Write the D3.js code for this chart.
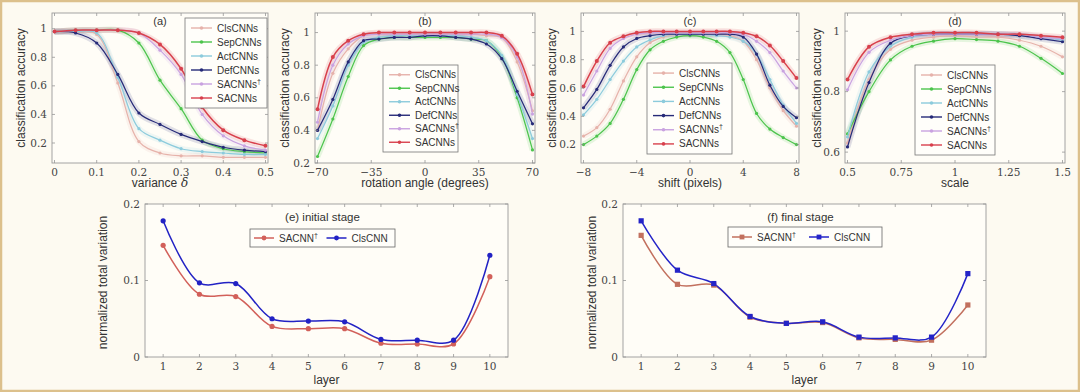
<!DOCTYPE html>
<html>
<head>
<meta charset="utf-8">
<script src="https://cdn.jsdelivr.net/npm/d3@7"></script>
<style>
  html, body { margin: 0; padding: 0; background: #fdfaf1; }
  svg { display: block; }
</style>
</head>
<body>
<script>
// method names and colours (top row)
const methods = ["ClsCNNs", "SepCNNs", "ActCNNs", "DefCNNs", "SACNNs†", "SACNNs"];
const methodColors = ["#e6b2aa", "#4cc44c", "#8ccbdc", "#262a78", "#c9a2e0", "#d8404c"];

// (a) noise variance
const varianceX = [0, 0.05, 0.1, 0.15, 0.2, 0.25, 0.3, 0.35, 0.4, 0.45, 0.5];
const noiseAcc = [
  [0.98, 0.98, 0.96, 0.62, 0.21, 0.13, 0.11, 0.11, 0.10, 0.10, 0.10],
  [0.98, 0.99, 0.99, 0.99, 0.90, 0.64, 0.44, 0.22, 0.16, 0.14, 0.13],
  [0.98, 0.98, 0.97, 0.66, 0.30, 0.22, 0.16, 0.14, 0.13, 0.12, 0.12],
  [0.98, 0.97, 0.90, 0.68, 0.41, 0.33, 0.26, 0.21, 0.17, 0.15, 0.14],
  [0.98, 0.99, 0.99, 0.99, 0.97, 0.85, 0.68, 0.40, 0.25, 0.18, 0.15],
  [0.98, 0.99, 0.99, 0.99, 0.97, 0.89, 0.72, 0.45, 0.29, 0.22, 0.18]
];

// (b) rotation angle
const angleX = [-70, -60, -50, -40, -30, -20, -10, 0, 10, 20, 30, 40, 50, 60, 70];
const rotationAcc = [
  [0.40, 0.75, 0.90, 0.98, 0.99, 0.99, 0.99, 0.99, 0.99, 0.99, 0.99, 0.98, 0.97, 0.82, 0.52],
  [0.24, 0.47, 0.73, 0.92, 0.96, 0.97, 0.97, 0.97, 0.97, 0.97, 0.96, 0.95, 0.85, 0.60, 0.28],
  [0.35, 0.55, 0.80, 0.94, 0.97, 0.98, 0.98, 0.98, 0.98, 0.98, 0.97, 0.95, 0.86, 0.62, 0.35],
  [0.40, 0.59, 0.82, 0.95, 0.96, 0.97, 0.97, 0.98, 0.98, 0.97, 0.96, 0.93, 0.84, 0.64, 0.44],
  [0.45, 0.80, 0.93, 0.98, 0.99, 0.99, 0.99, 0.99, 0.99, 0.99, 0.99, 0.99, 0.97, 0.85, 0.50],
  [0.53, 0.85, 0.95, 0.99, 1.00, 1.00, 1.00, 1.00, 1.00, 1.00, 1.00, 1.00, 0.98, 0.87, 0.62]
];

// (c) shift
const shiftX = [-8, -7, -6, -5, -4, -3, -2, -1, 0, 1, 2, 3, 4, 5, 6, 7, 8];
const shiftAcc = [
  [0.26, 0.32, 0.45, 0.65, 0.82, 0.92, 0.96, 0.98, 0.98, 0.98, 0.98, 0.97, 0.93, 0.80, 0.60, 0.44, 0.33],
  [0.20, 0.26, 0.35, 0.52, 0.73, 0.87, 0.93, 0.96, 0.97, 0.96, 0.93, 0.85, 0.66, 0.42, 0.31, 0.25, 0.20],
  [0.41, 0.52, 0.66, 0.79, 0.89, 0.94, 0.97, 0.98, 0.98, 0.98, 0.97, 0.96, 0.93, 0.84, 0.66, 0.48, 0.35],
  [0.46, 0.59, 0.76, 0.89, 0.95, 0.97, 0.98, 0.98, 0.98, 0.98, 0.98, 0.98, 0.96, 0.84, 0.62, 0.47, 0.39],
  [0.55, 0.72, 0.88, 0.95, 0.98, 0.99, 0.99, 0.99, 0.99, 0.99, 0.99, 0.99, 0.98, 0.93, 0.85, 0.72, 0.60],
  [0.61, 0.79, 0.92, 0.965, 0.99, 1.00, 1.00, 1.00, 1.00, 1.00, 1.00, 1.00, 0.99, 0.965, 0.90, 0.79, 0.67]
];

// (d) scale
const scaleX = [0.5, 0.6, 0.7, 0.8, 0.9, 1.0, 1.1, 1.2, 1.3, 1.4, 1.5];
const scaleAcc = [
  [0.63, 0.84, 0.94, 0.97, 0.98, 0.985, 0.98, 0.98, 0.97, 0.95, 0.915],
  [0.66, 0.80, 0.905, 0.95, 0.967, 0.975, 0.972, 0.967, 0.95, 0.91, 0.86],
  [0.65, 0.865, 0.95, 0.98, 0.99, 0.99, 0.99, 0.99, 0.985, 0.98, 0.97],
  [0.617, 0.83, 0.96, 0.985, 0.99, 0.99, 0.99, 0.99, 0.985, 0.975, 0.965],
  [0.806, 0.93, 0.97, 0.985, 0.99, 0.99, 0.99, 0.99, 0.99, 0.98, 0.975],
  [0.84, 0.948, 0.98, 0.99, 0.995, 0.995, 0.995, 0.99, 0.99, 0.985, 0.98]
];

// (e), (f) normalized total variation per layer
const layers = [1, 2, 3, 4, 5, 6, 7, 8, 9, 10];
const tvNames = ["SACNN", "ClsCNN"];
const tvColors = [["#d2605a", "#2222c4"], ["#c2705e", "#2424c8"]];
const tvInitial = [
  [0.146, 0.082, 0.079, 0.040, 0.037, 0.037, 0.018, 0.017, 0.017, 0.105],
  [0.178, 0.097, 0.096, 0.050, 0.047, 0.046, 0.023, 0.022, 0.022, 0.133]
];
const tvFinal = [
  [0.159, 0.095, 0.094, 0.052, 0.044, 0.045, 0.025, 0.023, 0.022, 0.068],
  [0.178, 0.1135, 0.096, 0.053, 0.044, 0.046, 0.026, 0.025, 0.026, 0.109]
];

const W = 1080, H = 392;
const serif = "'DejaVu Serif', 'Liberation Serif', serif";
const sans = "'Liberation Sans', Arial, sans-serif";

const svg = d3.select("body").append("svg")
  .attr("width", W).attr("height", H);

svg.append("rect").attr("x", 1).attr("y", 1).attr("width", W - 2).attr("height", H - 2)
  .attr("fill", "#fdfaf1").attr("stroke", "#dcc08c").attr("stroke-width", 2.5);

function drawFrame(g, box, x, y, xticks, yticks, xlabels, ylabels) {
  const [l, t, r, b] = box;
  g.append("rect").attr("x", l).attr("y", t).attr("width", r - l).attr("height", b - t)
    .attr("fill", "#fffdf7").attr("stroke", "none");
  return function finish() {
    const tk = g.append("g").attr("stroke", "#888").attr("stroke-width", 0.7);
    xticks.forEach(v => {
      tk.append("line").attr("x1", x(v)).attr("x2", x(v)).attr("y1", b).attr("y2", b - 3);
      tk.append("line").attr("x1", x(v)).attr("x2", x(v)).attr("y1", t).attr("y2", t + 3);
    });
    yticks.forEach(v => {
      tk.append("line").attr("x1", l).attr("x2", l + 3).attr("y1", y(v)).attr("y2", y(v));
      tk.append("line").attr("x1", r).attr("x2", r - 3).attr("y1", y(v)).attr("y2", y(v));
    });
    g.append("rect").attr("x", l).attr("y", t).attr("width", r - l).attr("height", b - t)
      .attr("fill", "none").attr("stroke", "#9a9a9a").attr("stroke-width", 0.9);
    g.append("g").selectAll("text").data(xticks).join("text")
      .attr("x", d => x(d)).attr("y", b + 13)
      .attr("text-anchor", "middle").attr("font-family", serif).attr("font-size", 10.5)
      .attr("fill", "#444").text((d, i) => xlabels[i]);
    g.append("g").selectAll("text").data(yticks).join("text")
      .attr("x", l - 5).attr("y", d => y(d) + 3.5)
      .attr("text-anchor", "end").attr("font-family", serif).attr("font-size", 10.5)
      .attr("fill", "#444").text((d, i) => ylabels[i]);
  };
}

// ---------- top row ----------
const topPanels = [
  { title: "(a)", xs: varianceX, ys: noiseAcc, box: [52, 13, 268, 163], xdom: [0, 0.5], ydom: [0.06, 1.11],
    xticks: [0, 0.1, 0.2, 0.3, 0.4, 0.5], xlabels: ["0", "0.1", "0.2", "0.3", "0.4", "0.5"],
    yticks: [0.2, 0.4, 0.6, 0.8, 1], ylabels: ["0.2", "0.4", "0.6", "0.8", "1"],
    xlabel: "variance", delta: true, ylabX: 25, legend: [185, 18, 267, 108] },
  { title: "(b)", xs: angleX, ys: rotationAcc, box: [315, 13, 535, 163], xdom: [-70, 70], ydom: [0.2, 1.12],
    xticks: [-70, -35, 0, 35, 70], xlabels: ["−70", "−35", "0", "35", "70"],
    yticks: [0.2, 0.4, 0.6, 0.8, 1], ylabels: ["0.2", "0.4", "0.6", "0.8", "1"],
    xlabel: "rotation angle (degrees)", ylabX: 289, legend: [383, 65, 458, 152] },
  { title: "(c)", xs: shiftX, ys: shiftAcc, box: [581, 13, 799, 163], xdom: [-8, 8], ydom: [0.07, 1.13],
    xticks: [-8, -4, 0, 4, 8], xlabels: ["−8", "−4", "0", "4", "8"],
    yticks: [0.2, 0.4, 0.6, 0.8, 1], ylabels: ["0.2", "0.4", "0.6", "0.8", "1"],
    xlabel: "shift (pixels)", ylabX: 556, legend: [647, 63, 732, 154] },
  { title: "(d)", xs: scaleX, ys: scaleAcc, box: [845, 13, 1065, 163], xdom: [0.5, 1.5], ydom: [0.564, 1.06],
    xticks: [0.5, 0.75, 1, 1.25, 1.5], xlabels: ["0.5", "0.75", "1", "1.25", "1.5"],
    yticks: [0.6, 0.8, 1], ylabels: ["0.6", "0.8", "1"],
    xlabel: "scale", ylabX: 821, legend: [915, 65, 995, 155] }
];

topPanels.forEach(p => {
  const [l, t, r, b] = p.box;
  const g = svg.append("g");
  const x = d3.scaleLinear().domain(p.xdom).range([l + 2.5, r - 2.5]);
  const y = d3.scaleLinear().domain(p.ydom).range([b, t]);
  const finish = drawFrame(g, p.box, x, y, p.xticks, p.yticks, p.xlabels, p.ylabels);

  const line = d3.line().x((d, i) => x(p.xs[i])).y(d => y(d)).curve(d3.curveCatmullRom);
  const plot = g.append("g");
  p.ys.forEach((row, k) => {
    plot.append("path").attr("d", line(row)).attr("fill", "none")
      .attr("stroke", methodColors[k]).attr("stroke-opacity", 0.14).attr("stroke-width", 6);
  });
  p.ys.forEach((row, k) => {
    plot.append("path").attr("d", line(row)).attr("fill", "none")
      .attr("stroke", methodColors[k]).attr("stroke-width", k === 5 ? 1.5 : 1.2);
    plot.selectAll(null).data(row).join("circle")
      .attr("cx", (d, i) => x(p.xs[i])).attr("cy", d => y(d))
      .attr("r", k === 5 ? 2 : 1.6).attr("fill", methodColors[k]);
  });

  finish();

  g.append("text").attr("x", (l + r) / 2).attr("y", t + 12).attr("text-anchor", "middle")
    .attr("font-family", sans).attr("font-size", 11).attr("fill", "#333").text(p.title);

  const xl = g.append("text").attr("x", (l + r) / 2).attr("y", 187).attr("text-anchor", "middle")
    .attr("font-family", sans).attr("font-size", 12).attr("fill", "#333").text(p.xlabel);
  if (p.delta) xl.append("tspan").attr("font-family", serif).attr("font-style", "italic").text(" δ");

  g.append("text").attr("transform", `translate(${p.ylabX},${(t + b) / 2}) rotate(-90)`)
    .attr("text-anchor", "middle").attr("font-family", sans).attr("font-size", 12)
    .attr("fill", "#333").text("classification accuracy");

  // legend
  const [ll, lt, lr, lb] = p.legend;
  const lg = g.append("g");
  lg.append("rect").attr("x", ll).attr("y", lt).attr("width", lr - ll).attr("height", lb - lt)
    .attr("fill", "#fffefa").attr("stroke", "#777").attr("stroke-width", 0.8);
  const step = (lb - lt - 6) / 6;
  methods.forEach((m, k) => {
    const cy = lt + 3 + step * (k + 0.5);
    lg.append("line").attr("x1", ll + 6).attr("x2", ll + 27).attr("y1", cy).attr("y2", cy)
      .attr("stroke", methodColors[k]).attr("stroke-width", 1.4);
    lg.append("circle").attr("cx", ll + 16.5).attr("cy", cy).attr("r", 1.8).attr("fill", methodColors[k]);
    const tx = lg.append("text").attr("x", ll + 32).attr("y", cy + 3.5)
      .attr("font-family", sans).attr("font-size", 10).attr("fill", "#333");
    if (m.endsWith("†")) {
      tx.text(m.slice(0, -1));
      tx.append("tspan").attr("dy", -4).attr("font-size", 7).text("†");
    } else tx.text(m);
  });
});

// ---------- bottom row ----------
const bottomPanels = [
  { title: "(e) initial stage", ys: tvInitial, box: [145, 204, 508, 357], marker: "circle", colors: tvColors[0],
    ylabX: 107, legend: [250, 229, 395, 247] },
  { title: "(f) final stage", ys: tvFinal, box: [623, 204, 986, 357], marker: "square", colors: tvColors[1],
    ylabX: 596, legend: [728, 227, 882, 247] }
];

bottomPanels.forEach(p => {
  const [l, t, r, b] = p.box;
  const g = svg.append("g");
  const x = d3.scaleLinear().domain([0.5, 10.5]).range([l, r]);
  const y = d3.scaleLinear().domain([0, 0.2]).range([b, t]);
  const finish = drawFrame(g, p.box, x, y, layers, [0, 0.1, 0.2],
    layers.map(String), ["0", "0.1", "0.2"]);

  const line = d3.line().x((d, i) => x(layers[i])).y(d => y(d)).curve(d3.curveCatmullRom);
  const plot = g.append("g");
  p.ys.forEach((row, k) => {
    plot.append("path").attr("d", line(row)).attr("fill", "none")
      .attr("stroke", p.colors[k]).attr("stroke-width", 1.5);
  });
  p.ys.forEach((row, k) => {
    if (p.marker === "circle") {
      plot.selectAll(null).data(row).join("circle")
        .attr("cx", (d, i) => x(layers[i])).attr("cy", d => y(d)).attr("r", 2.6)
        .attr("fill", p.colors[k]);
    } else {
      plot.selectAll(null).data(row).join("rect")
        .attr("x", (d, i) => x(layers[i]) - 2.6).attr("y", d => y(d) - 2.6)
        .attr("width", 5.2).attr("height", 5.2).attr("fill", p.colors[k]);
    }
  });

  finish();

  g.append("text").attr("x", (l + r) / 2 - 4).attr("y", t + 17).attr("text-anchor", "middle")
    .attr("font-family", sans).attr("font-size", 11.5).attr("fill", "#333").text(p.title);
  g.append("text").attr("x", (l + r) / 2).attr("y", 384).attr("text-anchor", "middle")
    .attr("font-family", sans).attr("font-size", 12).attr("fill", "#333").text("layer");
  g.append("text").attr("transform", `translate(${p.ylabX},${(t + b) / 2 + 2}) rotate(-90)`)
    .attr("text-anchor", "middle").attr("font-family", sans).attr("font-size", 12)
    .attr("fill", "#333").text("normalized total variation");

  const [ll, lt, lr, lb] = p.legend;
  const lg = g.append("g");
  lg.append("rect").attr("x", ll).attr("y", lt).attr("width", lr - ll).attr("height", lb - lt)
    .attr("fill", "#fffefa").attr("stroke", "#666").attr("stroke-width", 0.8);
  const cy = (lt + lb) / 2;
  const half = (lr - ll) / 2;
  tvNames.forEach((name, k) => {
    const x0 = ll + 4 + k * half;
    lg.append("line").attr("x1", x0).attr("x2", x0 + 20).attr("y1", cy).attr("y2", cy)
      .attr("stroke", p.colors[k]).attr("stroke-width", 1.5);
    if (p.marker === "circle") {
      lg.append("circle").attr("cx", x0 + 10).attr("cy", cy).attr("r", 2.4).attr("fill", p.colors[k]);
    } else {
      lg.append("rect").attr("x", x0 + 7.6).attr("y", cy - 2.4).attr("width", 4.8).attr("height", 4.8)
        .attr("fill", p.colors[k]);
    }
    const tx = lg.append("text").attr("x", x0 + 25).attr("y", cy + 3.5)
      .attr("font-family", sans).attr("font-size", 10).attr("fill", "#333").text(name);
    if (k === 0) tx.append("tspan").attr("dy", -4).attr("font-size", 7).text("†");
  });
});
</script>
</body>
</html>
